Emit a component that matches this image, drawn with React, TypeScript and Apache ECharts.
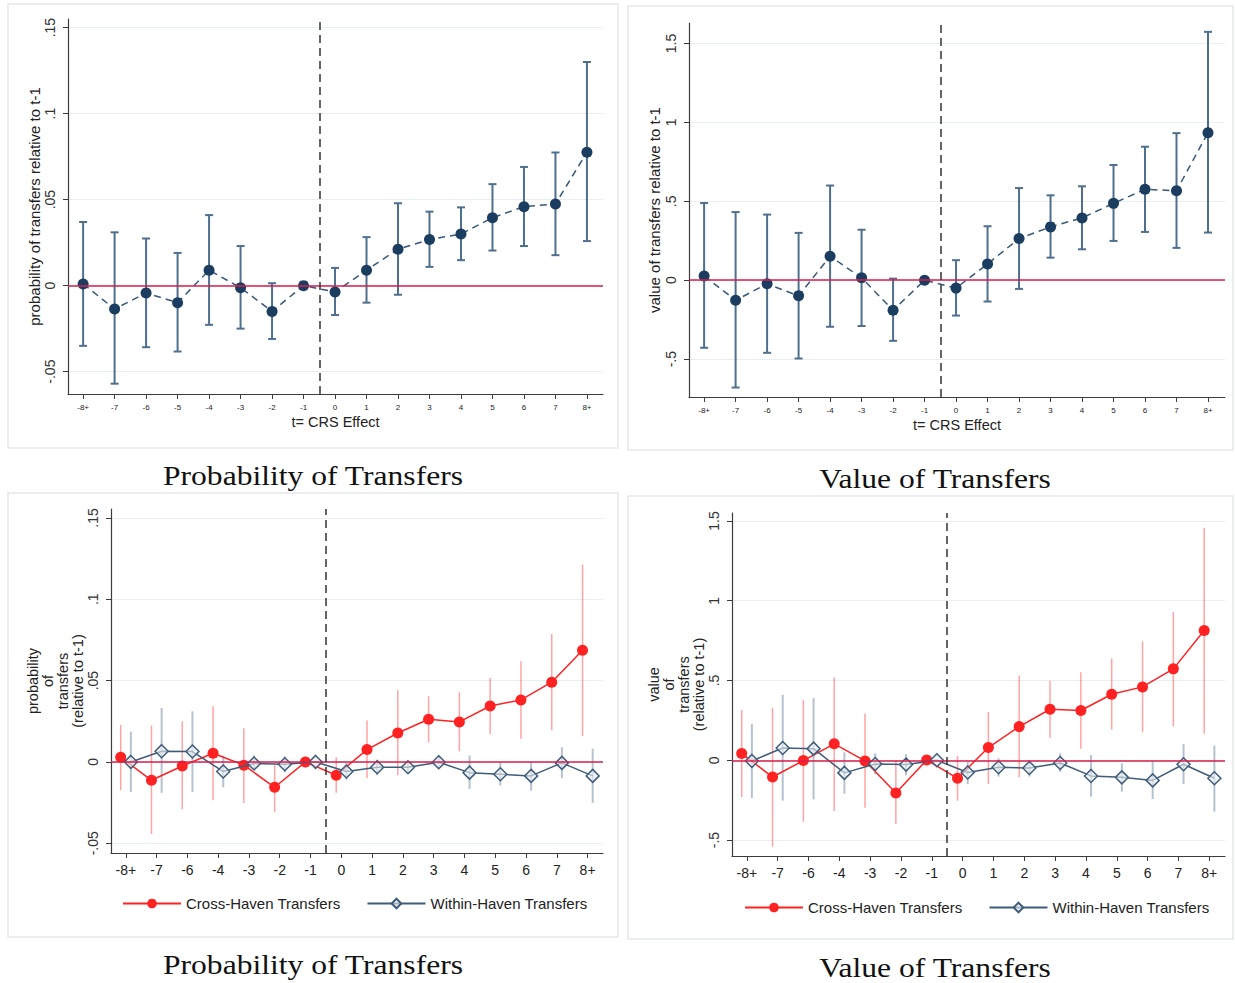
import React, { useEffect, useRef } from 'react';
import * as echarts from 'echarts';

// ---------- data ----------
const topCategories = ['-8+', '-7', '-6', '-5', '-4', '-3', '-2', '-1', '0', '1', '2', '3', '4', '5', '6', '7', '8+'];
const bottomCategories = ['-8+', '-7', '-6', '-4', '-3', '-2', '-1', '0', '1', '2', '3', '4', '5', '6', '7', '8+'];

const probTicks = [-0.05, 0, 0.05, 0.1, 0.15];
const valueTicks = [-0.5, 0, 0.5, 1, 1.5];

// Top-left: probability of transfers
const probEst = [0.001, -0.0136, -0.0043, -0.0099, 0.009, -0.0012, -0.015, 0, -0.0037, 0.009, 0.0212, 0.0268, 0.03, 0.0395, 0.0459, 0.0475, 0.0776];
const probHi = [0.037, 0.031, 0.0274, 0.019, 0.041, 0.023, 0.0014, null, 0.0103, 0.0282, 0.0479, 0.043, 0.0455, 0.059, 0.069, 0.0774, 0.13];
const probLo = [-0.035, -0.057, -0.0358, -0.0383, -0.0228, -0.025, -0.031, null, -0.0171, -0.0099, -0.0053, 0.0109, 0.0148, 0.0204, 0.023, 0.0177, 0.0259];

// Top-right: value of transfers
const valEst = [0.027, -0.127, -0.023, -0.099, 0.152, 0.015, -0.19, 0, -0.05, 0.103, 0.264, 0.338, 0.395, 0.487, 0.576, 0.567, 0.935];
const valHi = [0.489, 0.432, 0.416, 0.3, 0.6, 0.32, 0.01, null, 0.127, 0.342, 0.584, 0.538, 0.595, 0.73, 0.846, 0.932, 1.574];
const valLo = [-0.428, -0.68, -0.46, -0.496, -0.295, -0.29, -0.384, null, -0.224, -0.135, -0.055, 0.143, 0.196, 0.249, 0.306, 0.205, 0.302];

// Bottom-left: probability, cross vs within
const probCrossEst = [0.0029, -0.0113, -0.0025, 0.0053, -0.002, -0.0156, 0, -0.0082, 0.0076, 0.0178, 0.0262, 0.0246, 0.0344, 0.0381, 0.049, 0.0686];
const probCrossHi = [0.0227, 0.0223, 0.025, 0.0342, 0.0207, -0.0016, null, 0.0029, 0.0254, 0.044, 0.0404, 0.0428, 0.0516, 0.0619, 0.0787, 0.1213];
const probCrossLo = [-0.0174, -0.0443, -0.029, -0.0236, -0.0252, -0.031, null, -0.019, -0.01, -0.0082, 0.0121, 0.0066, 0.0172, 0.0143, 0.0195, 0.0158];
const probWithinEst = [0, 0.0066, 0.0064, -0.0059, -0.001, -0.0014, 0, -0.0059, -0.0033, -0.0033, -0.0002, -0.0066, -0.0076, -0.0086, -0.0006, -0.0086];
const probWithinHi = [0.0186, 0.0332, 0.0311, 0.0039, 0.0041, 0.0035, null, -0.0006, 0.0014, 0.0004, 0.0041, 0.0039, -0.0002, -0.0002, 0.009, 0.0082];
const probWithinLo = [-0.0186, -0.019, -0.0184, -0.0156, -0.0043, -0.0064, null, -0.0109, -0.0082, -0.0068, -0.0043, -0.0166, -0.0145, -0.0176, -0.01, -0.0252];

// Bottom-right: value, cross vs within
const valCrossEst = [0.042, -0.105, -0.002, 0.103, -0.004, -0.205, 0.002, -0.113, 0.08, 0.211, 0.32, 0.312, 0.414, 0.46, 0.573, 0.814];
const valCrossHi = [0.316, 0.33, 0.377, 0.519, 0.293, 0, null, 0.027, 0.303, 0.531, 0.498, 0.552, 0.638, 0.745, 0.929, 1.458];
const valCrossLo = [-0.23, -0.542, -0.385, -0.318, -0.297, -0.4, null, -0.253, -0.149, -0.107, 0.142, 0.073, 0.192, 0.176, 0.213, 0.167];
const valWithinEst = [-0.004, 0.077, 0.073, -0.079, -0.023, -0.027, 0, -0.077, -0.044, -0.048, -0.017, -0.098, -0.107, -0.126, -0.025, -0.113];
const valWithinHi = [0.228, 0.41, 0.389, 0.05, 0.044, 0.038, null, -0.008, 0.013, 0.002, 0.044, 0.033, -0.019, -0.008, 0.103, 0.092];
const valWithinLo = [-0.236, -0.253, -0.245, -0.209, -0.088, -0.094, null, -0.15, -0.102, -0.102, -0.073, -0.228, -0.197, -0.243, -0.149, -0.322];

const CROSS = 'Cross-Haven Transfers';
const WITHIN = 'Within-Haven Transfers';

// ---------- styles ----------
const SANS = '"Liberation Sans", Arial, sans-serif';
const AXIS_COLOR = '#3c3c3c';
const NAVY = '#1b3d5f';
const CI_TOP = '#4f6f8f';
const RED = '#ff2222';
const RED_CI = 'rgba(255,90,90,0.55)';
const BLUE = '#3f5d7a';
const BLUE_CI = 'rgba(90,120,150,0.45)';
const ZERO = '#d81e4a';

const fmtNum = (v: number) => {
  const r = Math.round(v * 1000) / 1000;
  return String(r).replace(/^(-?)0\./, '$1.');
};

function yAxisCfg(gridIndex: number, min: number, max: number, ticks: number[], name: string, nameGap: number, nameSize: number, lineHeight?: number) {
  return {
    type: 'value', gridIndex, min, max,
    axisLine: { show: true, onZero: false, lineStyle: { color: AXIS_COLOR, width: 1.2 } },
    axisTick: { show: true, length: 5, customValues: ticks, lineStyle: { color: AXIS_COLOR } },
    axisLabel: { customValues: ticks, rotate: 90, formatter: fmtNum, fontSize: 14, color: '#333', margin: 11, fontFamily: SANS },
    splitLine: { show: true, lineStyle: { color: '#e8eff2', width: 1 } },
    name, nameLocation: 'middle', nameGap, nameRotate: 90,
    nameTextStyle: { fontSize: nameSize, color: '#222', fontFamily: SANS, lineHeight: lineHeight || 16 },
  };
}

function xAxisCfg(gridIndex: number, min: number, max: number, labels: string[], fontSize: number, margin: number, name?: string) {
  const vals = labels.map((_, i) => i);
  return {
    type: 'value', gridIndex, min, max,
    axisLine: { show: true, onZero: false, lineStyle: { color: AXIS_COLOR, width: 1.2 } },
    axisTick: { show: true, length: 5, customValues: vals, lineStyle: { color: AXIS_COLOR } },
    axisLabel: { customValues: vals, formatter: (v: number) => labels[Math.round(v)], fontSize, margin, color: '#222', fontFamily: SANS },
    splitLine: { show: false },
    name: name || '', nameLocation: 'middle', nameGap: 20,
    nameTextStyle: { fontSize: 14.5, color: '#222', fontFamily: SANS },
  };
}

function errorSeries(idx: number, lo: (number | null)[], hi: (number | null)[], offset: number, color: string, width: number, cap: number) {
  const data: number[][] = [];
  lo.forEach((l, i) => {
    const h = hi[i];
    if (l != null && h != null) data.push([i + offset, l, h]);
  });
  return {
    type: 'custom', xAxisIndex: idx, yAxisIndex: idx, silent: true, z: 2,
    encode: { x: 0, y: [1, 2] },
    data,
    renderItem: (_p: any, api: any) => {
      const x = api.value(0);
      const a = api.coord([x, api.value(1)]);
      const b = api.coord([x, api.value(2)]);
      const style = { stroke: color, lineWidth: width };
      const children: any[] = [{ type: 'line', shape: { x1: a[0], y1: a[1], x2: b[0], y2: b[1] }, style }];
      if (cap > 0) {
        children.push({ type: 'line', shape: { x1: a[0] - cap, y1: a[1], x2: a[0] + cap, y2: a[1] }, style });
        children.push({ type: 'line', shape: { x1: b[0] - cap, y1: b[1], x2: b[0] + cap, y2: b[1] }, style });
      }
      return { type: 'group', children };
    },
  };
}

function refLines(idx: number, xLine: number) {
  return {
    type: 'line', xAxisIndex: idx, yAxisIndex: idx, data: [], silent: true, z: 1,
    markLine: {
      silent: true, symbol: ['none', 'none'], label: { show: false }, animation: false,
      data: [
        { yAxis: 0, lineStyle: { color: ZERO, width: 1.5, type: 'solid' } },
        { xAxis: xLine, lineStyle: { color: '#333', width: 1.5, type: [8, 5] } },
      ],
    },
  };
}

function pointsTop(idx: number, est: number[]) {
  return {
    type: 'line', xAxisIndex: idx, yAxisIndex: idx, z: 3,
    data: est.map((v, i) => [i, v]),
    symbol: 'circle', symbolSize: 11,
    itemStyle: { color: NAVY },
    lineStyle: { color: '#36587a', width: 1.5, type: [7, 5] },
  };
}

function crossSeries(idx: number, est: number[]) {
  return {
    name: CROSS, type: 'line', xAxisIndex: idx, yAxisIndex: idx, z: 3,
    data: est.map((v, i) => [i - 0.165, v]),
    symbol: 'circle', symbolSize: 11,
    itemStyle: { color: RED },
    lineStyle: { color: RED, width: 1.5 },
  };
}

function withinSeries(idx: number, est: number[]) {
  return {
    name: WITHIN, type: 'line', xAxisIndex: idx, yAxisIndex: idx, z: 4,
    data: est.map((v, i) => [i + 0.165, v]),
    symbol: 'diamond', symbolSize: 13,
    itemStyle: { color: 'rgba(235,240,245,0.6)', borderColor: BLUE, borderWidth: 1.5 },
    lineStyle: { color: BLUE, width: 1.5 },
  };
}

export default function App() {
  const ref = useRef<HTMLDivElement>(null);

  useEffect(() => {
    if (!ref.current) return;
    const chart = echarts.init(ref.current, null, { renderer: 'svg' });

    const boxStyle = { fill: 'none', stroke: '#e3e9ec', lineWidth: 1.5 };
    const titleFont = '27px "Liberation Serif", "Times New Roman", serif';
    const title = (text: string, x: number, y: number) => ({
      type: 'text', silent: true, x, y, scaleX: 1.17,
      style: { text, font: titleFont, fill: '#111', align: 'center', verticalAlign: 'middle' },
    });
    const legendCfg = (left: number, top: number) => ({
      data: [CROSS, WITHIN], left, top, padding: 0, itemWidth: 58, itemHeight: 12, itemGap: 26,
      selectedMode: false, textStyle: { fontSize: 15, color: '#222', fontFamily: SANS },
    });

    const option: any = {
      animation: false,
      backgroundColor: '#ffffff',
      grid: [
        { left: 68, top: 19, width: 535, height: 375 },
        { left: 689, top: 23, width: 536, height: 374 },
        { left: 111, top: 509, width: 492, height: 344 },
        { left: 732, top: 513, width: 493, height: 343 },
      ],
      xAxis: [
        xAxisCfg(0, -0.48, 16.51, topCategories, 8, 9, 't= CRS Effect'),
        xAxisCfg(1, -0.48, 16.54, topCategories, 8, 9, 't= CRS Effect'),
        xAxisCfg(2, -0.48, 15.5, bottomCategories, 14, 10),
        xAxisCfg(3, -0.48, 15.51, bottomCategories, 14, 10),
      ],
      yAxis: [
        yAxisCfg(0, -0.063, 0.155, probTicks, 'probability of transfers relative to t-1', 26, 15),
        yAxisCfg(1, -0.74, 1.63, valueTicks, 'value of transfers relative to t-1', 27, 15),
        yAxisCfg(2, -0.056, 0.1555, probTicks, 'probability\nof\ntransfers\n(relative to t-1)', 24, 14.5, 15),
        yAxisCfg(3, -0.6, 1.55, valueTicks, 'value\nof\ntransfers\n(relative to t-1)', 23, 14.5, 15),
      ],
      legend: [legendCfg(122, 896), legendCfg(744, 900)],
      graphic: [
        { type: 'rect', silent: true, z: -10, shape: { x: 8, y: 4, width: 610, height: 444 }, style: boxStyle },
        { type: 'rect', silent: true, z: -10, shape: { x: 628, y: 6, width: 605, height: 444 }, style: boxStyle },
        { type: 'rect', silent: true, z: -10, shape: { x: 8, y: 493, width: 610, height: 444 }, style: boxStyle },
        { type: 'rect', silent: true, z: -10, shape: { x: 628, y: 496, width: 605, height: 443 }, style: boxStyle },
        title('Probability of Transfers', 313, 476),
        title('Value of Transfers', 935, 479),
        title('Probability of Transfers', 313, 965),
        title('Value of Transfers', 935, 968),
      ],
      series: [
        refLines(0, 7.5),
        errorSeries(0, probLo, probHi, 0, CI_TOP, 2, 4),
        pointsTop(0, probEst),

        refLines(1, 7.5),
        errorSeries(1, valLo, valHi, 0, CI_TOP, 2, 4),
        pointsTop(1, valEst),

        refLines(2, 6.5),
        errorSeries(2, probCrossLo, probCrossHi, -0.165, RED_CI, 1.5, 0),
        errorSeries(2, probWithinLo, probWithinHi, 0.165, BLUE_CI, 2, 0),
        crossSeries(2, probCrossEst),
        withinSeries(2, probWithinEst),

        refLines(3, 6.5),
        errorSeries(3, valCrossLo, valCrossHi, -0.165, RED_CI, 1.5, 0),
        errorSeries(3, valWithinLo, valWithinHi, 0.165, BLUE_CI, 2, 0),
        crossSeries(3, valCrossEst),
        withinSeries(3, valWithinEst),
      ],
    };

    chart.setOption(option);
    return () => chart.dispose();
  }, []);

  return (
    <div
      ref={ref}
      style={{ position: 'absolute', left: 0, top: 0, width: 1235, height: 983, background: '#fff' }}
    />
  );
}
